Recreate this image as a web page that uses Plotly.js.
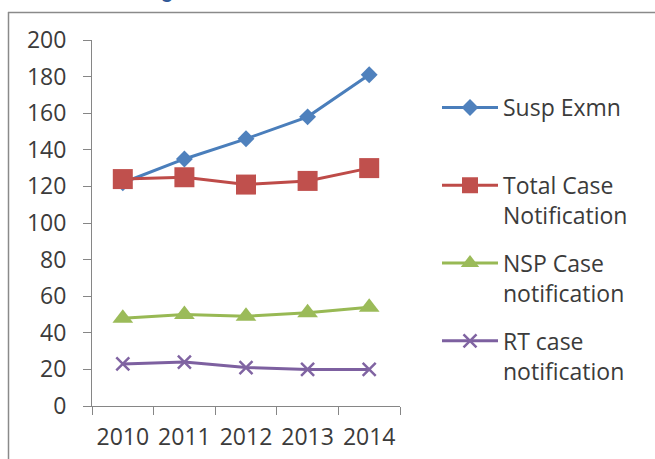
<!DOCTYPE html>
<html>
<head>
<meta charset="utf-8">
<script src="https://cdn.plot.ly/plotly-3.0.1.min.js"></script>
<style>html,body{margin:0;padding:0;background:#fff;}#chart{width:655px;height:459px;}</style>
</head>
<body>
<div id="chart"></div>
<script>
var years = ['2010', '2011', '2012', '2013', '2014'];
var suspExmn = [122, 135, 146, 158, 181];
var totalCase = [124, 125, 121, 123, 130];
var nspCase = [48, 50, 49, 51, 54];
var rtCase = [23, 24, 21, 20, 20];
var seriesNames = ['Susp Exmn<br> ', 'Total Case<br>Notification', 'NSP Case<br>notification', 'RT case<br>notification'];
var yTicks = [0, 20, 40, 60, 80, 100, 120, 140, 160, 180, 200];

var W = 655, H = 459;
function px(x) { return x / W; }
function py(y) { return 1 - y / H; }

var textColor = '#3b3b3b';
var axisColor = '#868686';
var fontFam = '"Open Sans", "Liberation Sans", sans-serif';

var traces = [
  {x: years, y: suspExmn, name: seriesNames[0], legendgroup: 'a', type: 'scatter', mode: 'lines+markers',
   line: {color: '#4A7EBB', width: 3}, marker: {symbol: 'diamond', size: 13, color: '#4F81BD'}},
  {x: years, y: totalCase, name: seriesNames[1], legendgroup: 'b', type: 'scatter', mode: 'lines+markers',
   line: {color: '#BE4B48', width: 3}, marker: {symbol: 'square', size: 20, color: '#C0504D'}},
  {x: years, y: nspCase, name: seriesNames[2], legendgroup: 'c', type: 'scatter', mode: 'lines+markers',
   line: {color: '#98B954', width: 3}, marker: {symbol: 'triangle-up', size: 18, color: '#9BBB59'}},
  {x: years, y: rtCase, name: seriesNames[3], legendgroup: 'd', type: 'scatter', mode: 'lines+markers',
   line: {color: '#7D60A0', width: 3}, marker: {symbol: 'x-thin', size: 13, color: '#8064A2', line: {color: '#8064A2', width: 2.5}}}
];

var layout = {
  width: W, height: H,
  margin: {l: 0, r: 0, t: 0, b: 0},
  paper_bgcolor: '#ffffff', plot_bgcolor: '#ffffff',
  font: {family: fontFam, color: textColor, size: 23},
  showlegend: true,
  legend: {
    x: px(437), xanchor: 'left', y: py(86), yanchor: 'top',
    traceorder: 'grouped', tracegroupgap: 15, valign: 'top',
    itemwidth: 56, font: {family: fontFam, size: 23, color: textColor},
    bgcolor: 'rgba(0,0,0,0)'
  },
  xaxis: {
    type: 'category', domain: [px(92), px(400)], range: [-0.5, 4.5],
    showgrid: false, zeroline: false, showline: true, linecolor: axisColor, linewidth: 1,
    ticks: 'outside', tickson: 'boundaries', ticklen: 8, tickcolor: axisColor,
    tickangle: 0,
    tickfont: {family: fontFam, size: 23, color: textColor}, ticklabelstandoff: 10,
    fixedrange: true
  },
  yaxis: {
    domain: [py(406), py(40)], range: [0, 200],
    tickvals: yTicks, ticktext: yTicks.map(String),
    showgrid: false, zeroline: false, showline: true, linecolor: axisColor, linewidth: 1,
    ticks: 'outside', ticklen: 8, tickcolor: axisColor,
    tickfont: {family: fontFam, size: 23, color: textColor}, ticklabelstandoff: 12,
    fixedrange: true
  },
  shapes: [
    {type: 'line', xref: 'paper', yref: 'paper', x0: px(8), x1: px(655), y0: py(12.5), y1: py(12.5), line: {color: '#8a8a8a', width: 1.5}},
    {type: 'line', xref: 'paper', yref: 'paper', x0: px(8.5), x1: px(8.5), y0: py(12), y1: py(459), line: {color: '#8a8a8a', width: 1.5}}
  ],
  annotations: [
    {text: '<b>g</b>', xref: 'paper', yref: 'paper', x: px(167), y: py(-9), xanchor: 'center', yanchor: 'middle',
     showarrow: false, font: {family: '"Liberation Sans", sans-serif', size: 20, color: '#2F5897'}}
  ]
};

Plotly.newPlot('chart', traces, layout, {displayModeBar: false, staticPlot: true});
</script>
</body>
</html>
